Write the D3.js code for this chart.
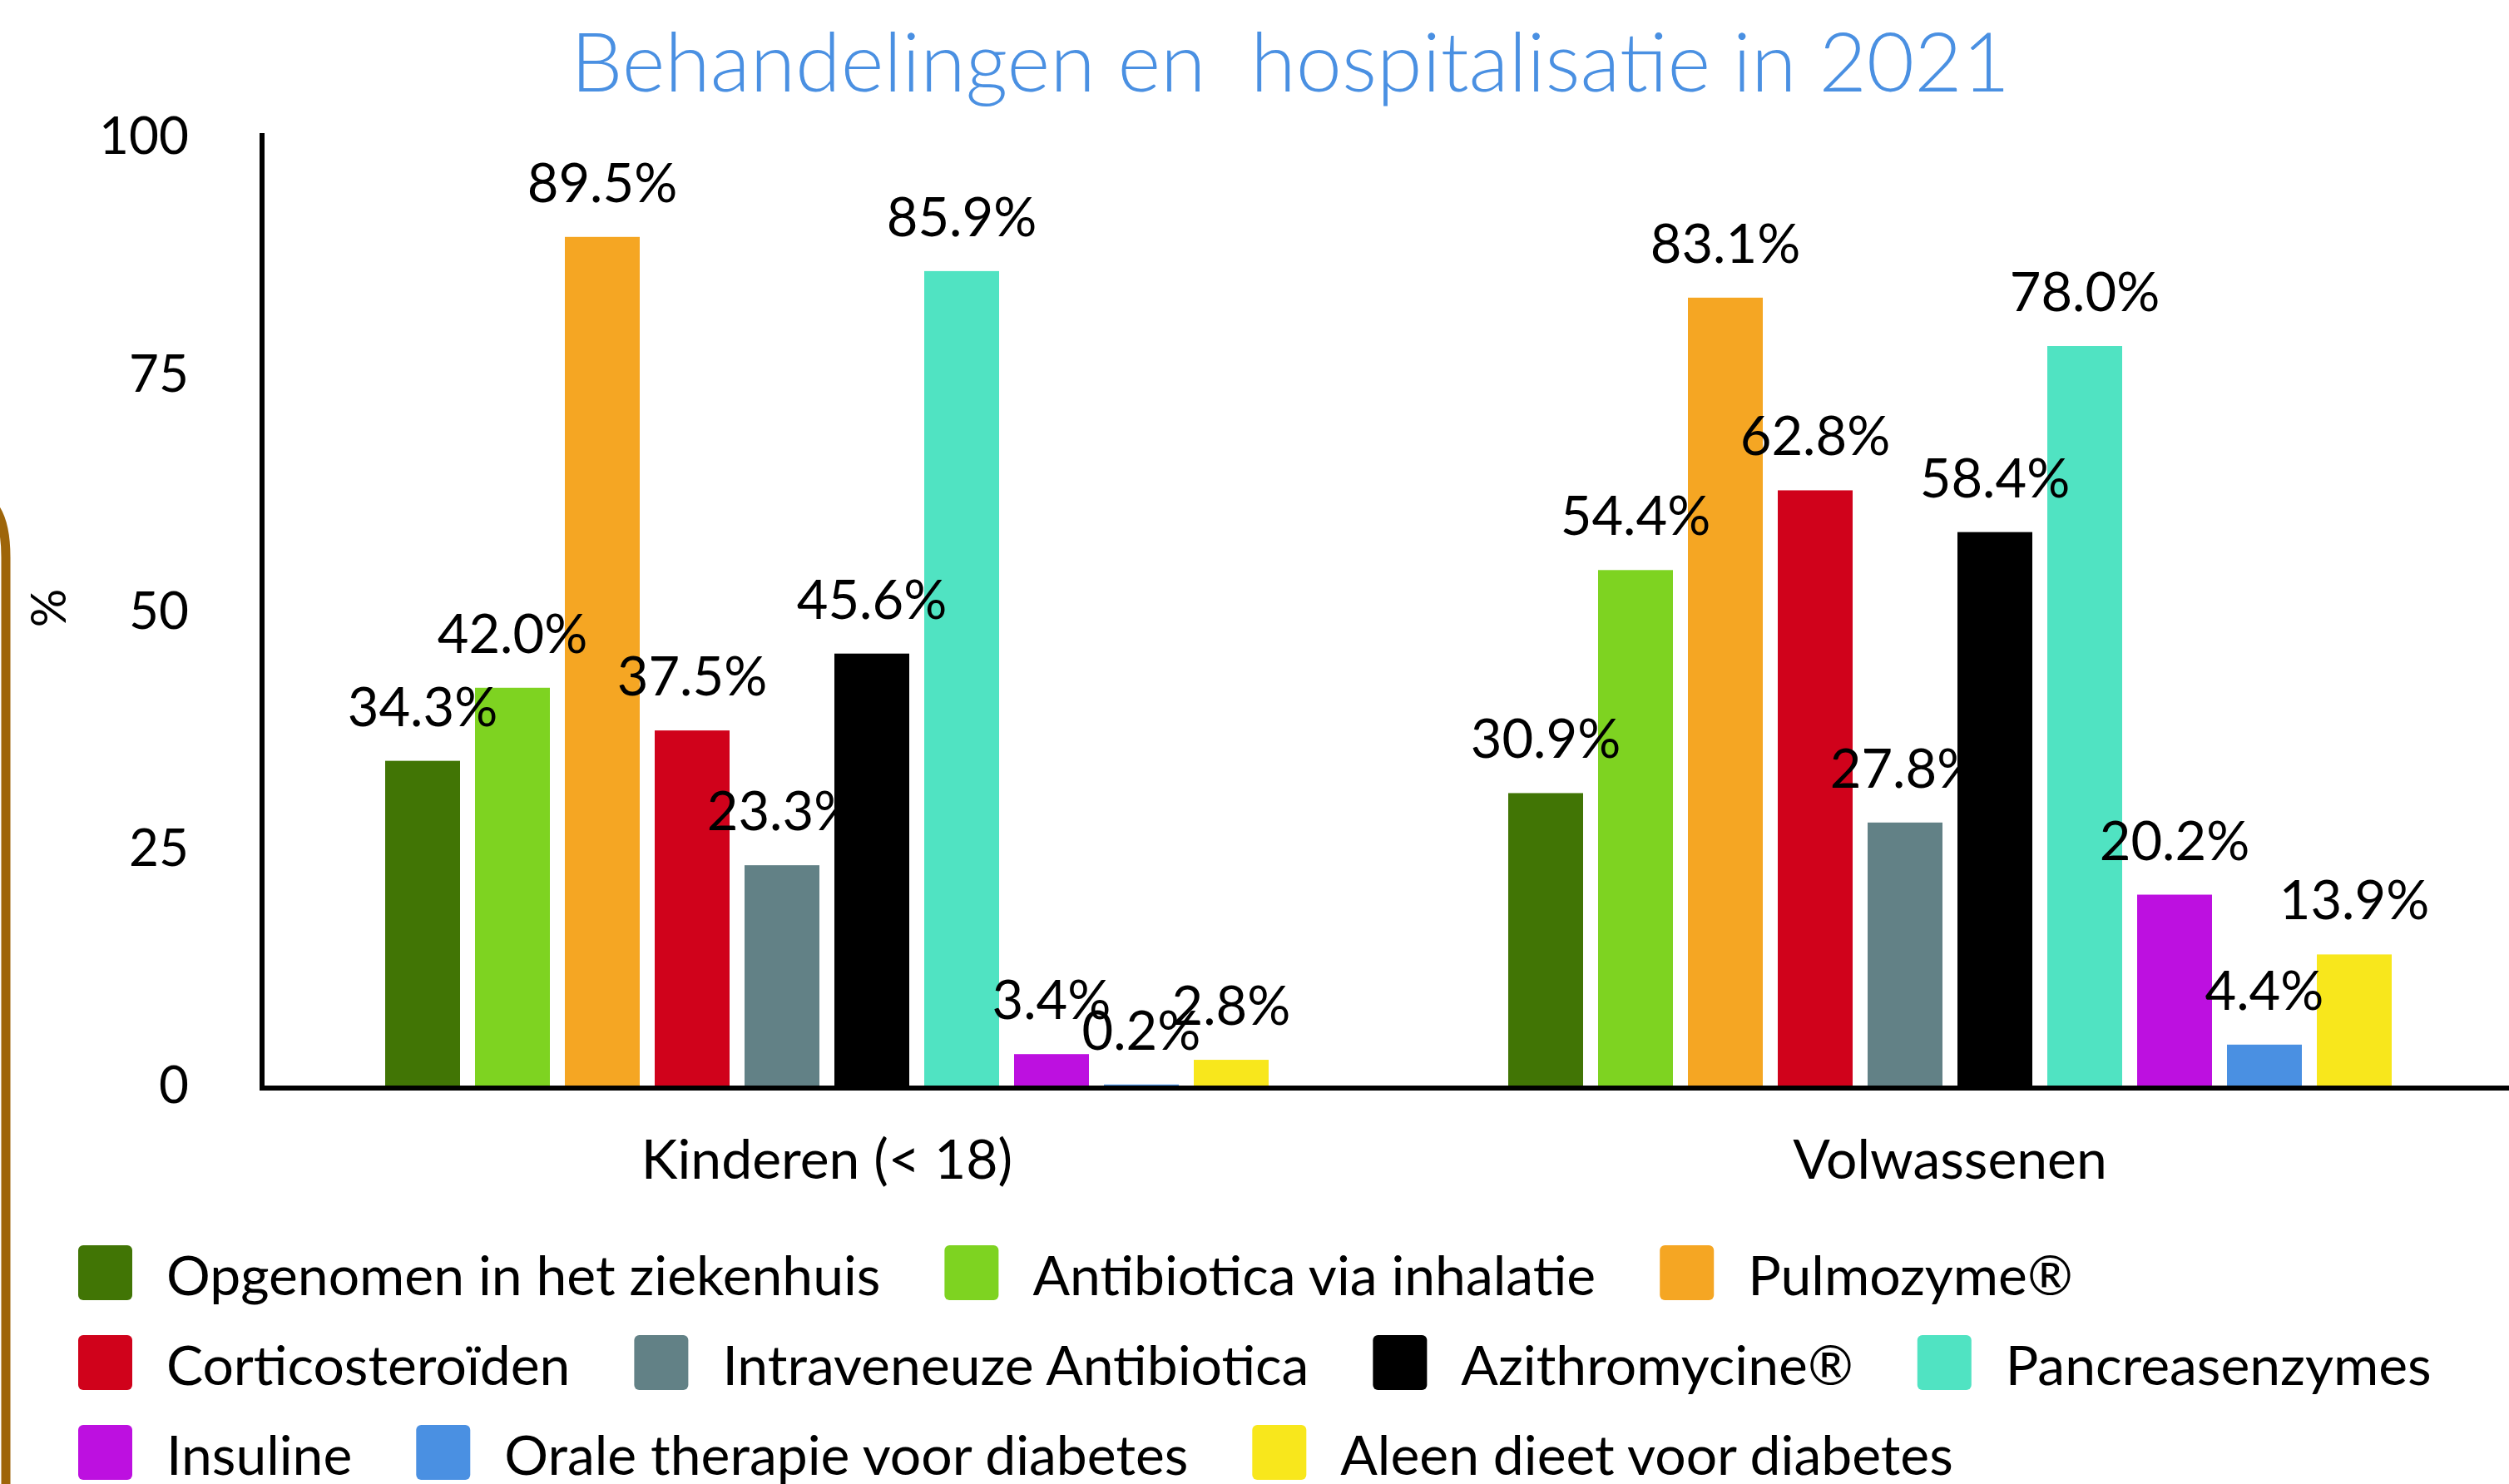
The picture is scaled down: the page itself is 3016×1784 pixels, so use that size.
<!DOCTYPE html>
<html>
<head>
<meta charset="utf-8">
<script src="https://cdn.jsdelivr.net/npm/d3@7"></script>
<style>
  html, body { margin: 0; padding: 0; background: #fff; }
  svg { display: block; }
</style>
</head>
<body>
<div id="chart"></div>
<script>
// data
const groups = ["Kinderen (< 18)", "Volwassenen"];
const series = [
  "Opgenomen in het ziekenhuis",
  "Antibiotica via inhalatie",
  "Pulmozyme®",
  "Corticosteroïden",
  "Intraveneuze Antibiotica",
  "Azithromycine®",
  "Pancreasenzymes",
  "Insuline",
  "Orale therapie voor diabetes",
  "Aleen dieet voor diabetes"
];
const colors = ["#417505", "#7ed321", "#f5a623", "#d0021b", "#628186",
                "#000000", "#50e3c2", "#bd10e0", "#4a90e2", "#f8e71c"];
const kinderen = [34.3, 42.0, 89.5, 37.5, 23.3, 45.6, 85.9, 3.4, 0.2, 2.8];
const volwassenen = [30.9, 54.4, 83.1, 62.8, 27.8, 58.4, 78.0, 20.2, 4.4, 13.9];
const yTicks = [0, 25, 50, 75, 100];
const title = "Behandelingen en  hospitalisatie in 2021";

const values = [kinderen, volwassenen];
const data = [];
groups.forEach((g, gi) => {
  series.forEach((s, si) => {
    data.push({ group: g, serie: s, value: values[gi][si] });
  });
});

// dimensions
const width = 3016;
const height = 1784;
const marginLeft = 315;
const plotTop = 165;
const plotBottom = 1306;

const x0 = d3.scaleBand()
  .domain(groups)
  .range([319, 3019]);

const x1 = d3.scaleBand()
  .domain(series)
  .range([0, x0.bandwidth()])
  .paddingInner(1 / 6)
  .paddingOuter(4 / 3);

const y = d3.scaleLinear()
  .domain([0, 100])
  .range([plotBottom, plotTop]);

const color = d3.scaleOrdinal().domain(series).range(colors);

const svg = d3.select("#chart")
  .append("svg")
  .attr("width", width)
  .attr("height", height)
  .attr("viewBox", [0, 0, width, height])
  .style("font-family", "Lato, 'Open Sans', sans-serif");

// left border decoration
svg.append("path")
  .attr("d", "M-20,598 Q7,612 7,670 V1800")
  .attr("fill", "none")
  .attr("stroke", "#9e6509")
  .attr("stroke-width", 11);

// title
svg.append("text")
  .attr("x", 1551)
  .attr("y", 110)
  .attr("text-anchor", "middle")
  .attr("fill", "#4a90e2")
  .attr("font-size", 99)
  .attr("font-weight", 300)
  .style("white-space", "pre")
  .text(title);

// bars
const gBars = svg.append("g")
  .selectAll("g")
  .data(groups)
  .join("g")
  .attr("transform", d => `translate(${x0(d)},0)`);

gBars.selectAll("rect")
  .data(g => data.filter(d => d.group === g))
  .join("rect")
  .attr("x", d => x1(d.serie))
  .attr("y", d => y(d.value))
  .attr("width", x1.bandwidth())
  .attr("height", d => y(0) - y(d.value))
  .attr("fill", d => color(d.serie));

// value labels
gBars.selectAll("text")
  .data(g => data.filter(d => d.group === g))
  .join("text")
  .attr("x", d => x1(d.serie) + x1.bandwidth() / 2)
  .attr("y", d => y(d.value) - 42)
  .attr("text-anchor", "middle")
  .attr("font-size", 65)
  .attr("fill", "#000")
  .text(d => d3.format(".1f")(d.value) + "%");

// y axis
svg.append("g")
  .attr("transform", `translate(${marginLeft},0)`)
  .call(d3.axisLeft(y).tickValues(yTicks).tickSize(0).tickSizeOuter(0).tickPadding(88))
  .call(g => g.select(".domain")
    .attr("stroke", "#000")
    .attr("stroke-width", 6)
    .attr("d", `M0,${plotBottom + 5}V${plotTop - 5}`))
  .call(g => g.selectAll("text")
    .attr("font-size", 62)
    .attr("font-family", "Lato, sans-serif")
    .attr("fill", "#000"));

// y axis title
svg.append("text")
  .attr("transform", "translate(56,731) rotate(-90)")
  .attr("text-anchor", "middle")
  .attr("dominant-baseline", "central")
  .attr("font-size", 58)
  .text("%");

// x axis
svg.append("g")
  .attr("transform", `translate(0,${plotBottom + 2})`)
  .call(d3.axisBottom(x0).tickSize(0).tickPadding(62))
  .call(g => g.select(".domain")
    .attr("stroke", "#000")
    .attr("stroke-width", 6)
    .attr("d", `M${marginLeft - 3},0H${width}`))
  .call(g => g.selectAll("text")
    .attr("font-size", 66)
    .attr("font-family", "Lato, sans-serif")
    .attr("fill", "#000"));

// legend (flow layout)
const legend = svg.append("g");
const legendStartX = 94;
const legendTop = 1497;
const rowPitch = 108;
const swatch = 65;
const textOffset = 106;
const itemGap = 77;
const maxRight = 3010;

let lx = legendStartX, row = 0;
series.forEach((s, i) => {
  const item = legend.append("g");
  item.append("rect")
    .attr("width", swatch)
    .attr("height", swatch + 1)
    .attr("rx", 6)
    .attr("fill", colors[i]);
  const t = item.append("text")
    .attr("x", textOffset)
    .attr("y", 60)
    .attr("font-size", 66)
    .attr("fill", "#000")
    .text(s);
  const w = textOffset + t.node().getComputedTextLength();
  if (lx + w > maxRight && lx > legendStartX) {
    row += 1;
    lx = legendStartX;
  }
  item.attr("transform", `translate(${lx},${legendTop + row * rowPitch})`);
  lx += w + itemGap;
});
</script>
</body>
</html>
